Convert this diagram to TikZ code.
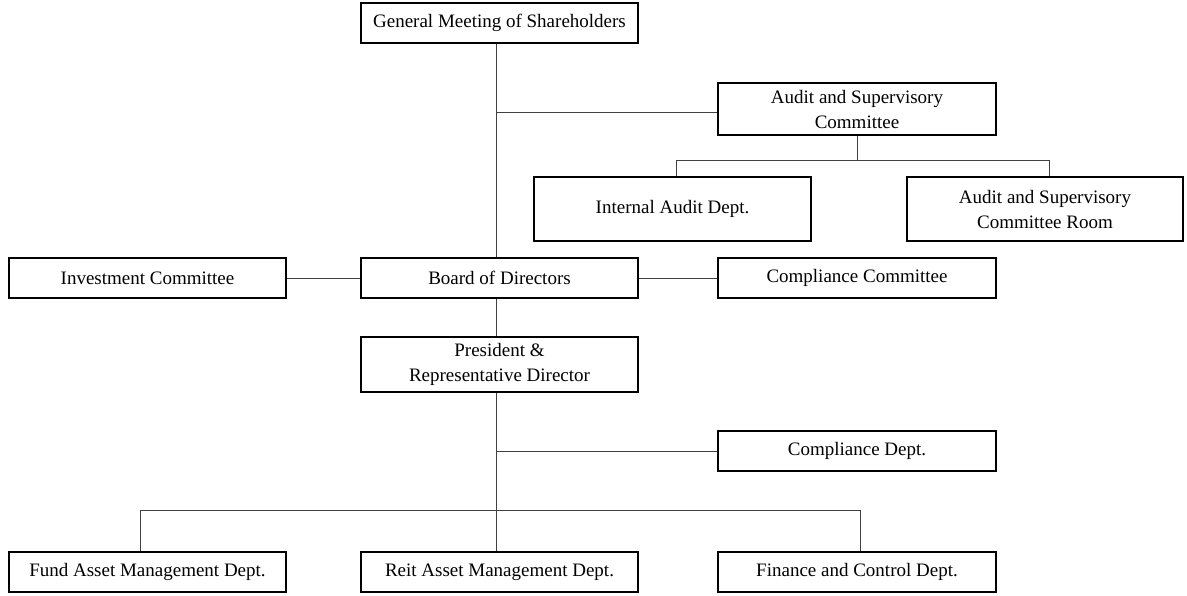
\documentclass[tikz,border=0pt]{standalone}
\usepackage{fontspec}
\setmainfont{Liberation Serif}
\begin{document}
\begin{tikzpicture}[x=1pt,y=-1pt,
  box/.style={draw=black,line width=1.4pt,fill=white,inner sep=0pt,align=center,
    font=\fontsize{19}{25}\selectfont},
  conn/.style={draw=black!75,line width=0.9pt}]
\useasboundingbox (0,0) rectangle (1187,595);
\coordinate (t) at (496,0);
% nodes
\node[box,minimum width=277pt,minimum height=40pt] (gms) at (499.5,23) {General Meeting of Shareholders};
\node[box,minimum width=278pt,minimum height=52pt] (audit) at (857,109) {Audit and Supervisory\\Committee};
\node[box,minimum width=277pt,minimum height=64pt] (ia) at (672.5,209) {Internal Audit Dept.};
\node[box,minimum width=276pt,minimum height=64pt] (ascr) at (1045,209) {Audit and Supervisory\\Committee Room};
\node[box,minimum width=277pt,minimum height=40pt] (invc) at (147.5,278) {Investment Committee};
\node[box,minimum width=277pt,minimum height=40pt] (board) at (499.5,278) {Board of Directors};
\node[box,minimum width=278pt,minimum height=40pt] (cc) at (857,278) {Compliance Committee};
\node[box,minimum width=277pt,minimum height=55pt] (pres) at (499.5,364.5) {President \&\\Representative Director};
\node[box,minimum width=278pt,minimum height=40pt] (cd) at (857,451) {Compliance Dept.};
\node[box,minimum width=277pt,minimum height=40pt] (fund) at (147.5,572) {Fund Asset Management Dept.};
\node[box,minimum width=277pt,minimum height=40pt] (reit) at (499.5,572) {Reit Asset Management Dept.};
\node[box,minimum width=278pt,minimum height=40pt] (fin) at (857,572) {Finance and Control Dept.};
% connector helper coordinates
\coordinate (ab) at (857,160);
\coordinate (al) at (676,160);
\coordinate (ar) at (1049,160);
\coordinate (bb) at (496,510);
\coordinate (bl) at (140,510);
\coordinate (br) at (860,510);
\coordinate (ay) at (0,112);
% connectors
\draw[conn] (gms.south -| t) -- (board.north -| t);
\draw[conn] (t |- ay) -- (audit.west |- ay);
\draw[conn] (audit.south) -- (ab);
\draw[conn] (ia.north -| al) -- (al) -- (ar) -- (ascr.north -| ar);
\draw[conn] (board.west) -- (invc.east);
\draw[conn] (board.east) -- (cc.west);
\draw[conn] (board.south -| t) -- (pres.north -| t);
\draw[conn] (pres.south -| t) -- (reit.north -| t);
\draw[conn] (t |- cd.west) -- (cd.west);
\draw[conn] (fund.north -| bl) -- (bl) -- (br) -- (fin.north -| br);
\end{tikzpicture}
\end{document}
